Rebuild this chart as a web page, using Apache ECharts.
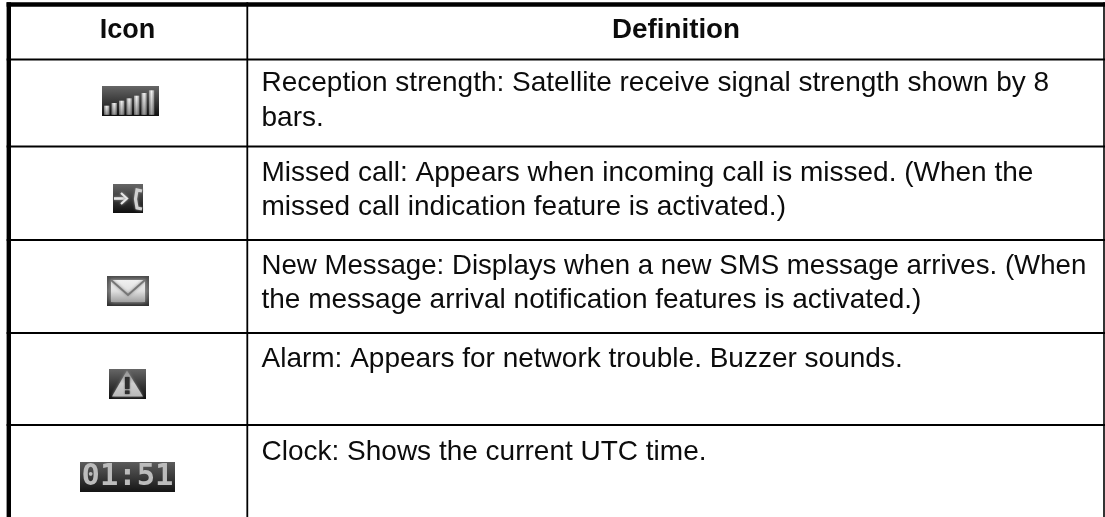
<!DOCTYPE html>
<html>
<head>
<meta charset="utf-8">
<style>
  html, body { margin: 0; padding: 0; background: #fff; }
  #chart { width: 1105px; height: 517px; }
</style>
<script src="https://cdn.jsdelivr.net/npm/echarts@6/dist/echarts.min.js"></script>
</head>
<body>
<div id="chart"></div>
<script>
const columnTitles = ["Icon", "Definition"];
const receptionLines = ["Reception strength: Satellite receive signal strength shown by 8", "bars."];
const missedLines = ["Missed call: Appears when incoming call is missed. (When the", "missed call indication feature is activated.)"];
const messageLines = ["New Message: Displays when a new SMS message arrives. (When", "the message arrival notification features is activated.)"];
const alarmLines = ["Alarm: Appears for network trouble. Buzzer sounds."];
const clockLines = ["Clock: Shows the current UTC time."];
const clockText = "01:51";

// signal icon bars, heights in icon pixels
const signalBars = ["1", "2", "3", "4", "5", "6", "7"];
const signalHeights = [9, 11.7, 14, 16.4, 19, 21.7, 24.4];

const FONT = '"Liberation Sans", Arial, sans-serif';
const INK = "#0c0c0c";
const BODY_SIZE = 28;
const MID_TO_BASE = 7.7; // baseline sits this far under the "middle" anchor at 28px

// row separators (y) and text baselines for the definition column
const ROW_LINES = [59.5, 146.5, 240, 333, 425];
const ROW_BASELINES = [[91, 125.5], [181, 215], [273.5, 308], [366.7], [460]];
const TEXT_X = 261.5;

function vGrad(stops) {
  return new echarts.graphic.LinearGradient(0, 0, 0, 1, stops.map((c, i) => ({
    offset: i / (stops.length - 1),
    color: c,
  })));
}

const ICON_BG = () => vGrad(["#666666", "#3a3a3a", "#0e0e0e"]);

function hLine(x1, x2, y, lineWidth) {
  return { type: "line", shape: { x1, y1: y, x2, y2: y }, style: { stroke: "#000", lineWidth } };
}

function vLine(x, y1, y2, lineWidth) {
  return { type: "line", shape: { x1: x, y1, x2: x, y2 }, style: { stroke: "#000", lineWidth } };
}

function label(text, x, y, opts = {}) {
  return {
    type: "text",
    x,
    y,
    scaleX: opts.scaleX || 1,
    style: {
      text,
      fill: opts.fill || INK,
      font: `${opts.weight || "normal"} ${opts.size || BODY_SIZE}px ${FONT}`,
      align: opts.align || "left",
      verticalAlign: "middle",
    },
  };
}

function definitionTexts() {
  const rows = [receptionLines, missedLines, messageLines, alarmLines, clockLines];
  const out = [];
  rows.forEach((lines, r) => {
    lines.forEach((line, i) => {
      // the "(When" line runs a little tighter in the source
      const scaleX = r === 2 && i === 0 ? 0.987 : 1;
      out.push(label(line, TEXT_X, ROW_BASELINES[r][i] - MID_TO_BASE, { scaleX }));
    });
  });
  return out;
}

function signalBackground() {
  return { type: "rect", z: 0, shape: { x: 102, y: 86, width: 57, height: 30 }, style: { fill: ICON_BG() } };
}

function missedIcon() {
  const x = 113, y = 184;
  return [
    { type: "rect", shape: { x, y, width: 30, height: 29 }, style: { fill: ICON_BG() } },
    // arrow
    { type: "polyline", shape: { points: [[x + 1, y + 14.5], [x + 12, y + 14.5]] },
      style: { stroke: "#e6e6e6", lineWidth: 2.6, shadowBlur: 3, shadowColor: "#999" } },
    { type: "polyline", shape: { points: [[x + 8, y + 9], [x + 14, y + 14.5], [x + 8, y + 20]] },
      style: { stroke: "#e6e6e6", lineWidth: 2.2, fill: "none", shadowBlur: 3, shadowColor: "#999" } },
    // handset
    { type: "polyline", shape: { points: [[x + 29, y + 7], [x + 24, y + 6], [x + 22.5, y + 15], [x + 24, y + 24], [x + 29, y + 25]] },
      style: { stroke: "#d0d0d0", lineWidth: 3.2, fill: "none", shadowBlur: 3, shadowColor: "#888" } },
  ];
}

function envelopeIcon() {
  const x = 107, y = 276;
  return [
    { type: "rect", shape: { x, y, width: 42, height: 30 }, style: { fill: vGrad(["#4a4a4a", "#6a6a6a", "#2e2e2e"]) } },
    { type: "rect", shape: { x: x + 4, y: y + 4, width: 34, height: 22 },
      style: { fill: vGrad(["#f0f0f0", "#e0e0e0", "#a0a0a0"]), shadowBlur: 4, shadowColor: "#aaa" } },
    { type: "polyline", shape: { points: [[x + 4, y + 4], [x + 21, y + 19], [x + 38, y + 4]] },
      style: { stroke: "#767676", lineWidth: 1.8, fill: "none", shadowBlur: 3, shadowColor: "#888" } },
  ];
}

function alarmIcon() {
  const x = 109, y = 369;
  return [
    { type: "rect", shape: { x, y, width: 37, height: 30 }, style: { fill: ICON_BG() } },
    { type: "polygon", shape: { points: [[x + 18, y + 1.5], [x + 34, y + 27.5], [x + 3, y + 27.5]] },
      style: { fill: vGrad(["#8c8c8c", "#cfcfcf", "#b8b8b8"]), shadowBlur: 3, shadowColor: "#888" } },
    { type: "rect", shape: { x: x + 16, y: y + 8, width: 4.5, height: 12 },
      style: { fill: "#2f2f2f", shadowBlur: 2, shadowColor: "#333" } },
    { type: "rect", shape: { x: x + 16, y: y + 21.5, width: 4.5, height: 3.5 },
      style: { fill: "#2f2f2f", shadowBlur: 2, shadowColor: "#333" } },
  ];
}

function clockIcon() {
  const x = 80, y = 462;
  return [
    { type: "rect", shape: { x, y, width: 95, height: 30 }, style: { fill: vGrad(["#5c5c5c", "#3a3a3a", "#141414"]) } },
    {
      type: "text",
      x: x + 47.5,
      y: y + 15.5,
      style: {
        text: clockText,
        fill: "#bcbcbc",
        font: 'bold 30.5px "DejaVu Sans Mono", monospace',
        align: "center",
        verticalAlign: "middle",
        shadowBlur: 5,
        shadowColor: "#999999",
      },
    },
  ];
}

const chart = echarts.init(document.getElementById("chart"), null, { renderer: "canvas" });

chart.setOption({
  animation: false,
  backgroundColor: "#ffffff",
  // the signal icon is the only real plot on the page
  grid: { left: 103, top: 86, width: 52.3, height: 30 },
  xAxis: { type: "category", data: signalBars, show: false },
  yAxis: { type: "value", min: -1.3, max: 28.7, show: false },
  series: [
    {
      type: "bar",
      data: signalHeights,
      barWidth: 5.3,
      z: 5,
      itemStyle: {
        color: new echarts.graphic.LinearGradient(0, 0, 1, 0, [
          { offset: 0, color: "#9c9c9c" },
          { offset: 0.5, color: "#fafafa" },
          { offset: 1, color: "#9c9c9c" },
        ]),
      },
    },
    {
      type: "bar",
      data: signalHeights,
      barWidth: 5.3,
      barGap: "-100%",
      z: 6,
      itemStyle: {
        color: new echarts.graphic.LinearGradient(0, 0, 0, 1, [
          { offset: 0, color: "rgba(30,30,30,0)" },
          { offset: 1, color: "rgba(30,30,30,0.45)" },
        ]),
      },
    },
  ],
  graphic: [
    signalBackground(),
    // frame
    hLine(6.6, 1105, 4.5, 4.4),
    vLine(8.8, 2.3, 517, 4.4),
    vLine(1104, 2.3, 517, 1.6),
    vLine(247.3, 2.3, 517, 1.8),
    ...ROW_LINES.map((y) => hLine(6.6, 1105, y, 2)),
    // headers
    label(columnTitles[0], 127.5, 38.5 - MID_TO_BASE, { weight: "bold", size: 27, align: "center" }),
    label(columnTitles[1], 676, 38.5 - MID_TO_BASE, { weight: "bold", size: 27.8, align: "center" }),
    ...definitionTexts(),
    ...missedIcon(),
    ...envelopeIcon(),
    ...alarmIcon(),
    ...clockIcon(),
  ],
});

window.addEventListener("resize", () => chart.resize());
</script>
</body>
</html>
